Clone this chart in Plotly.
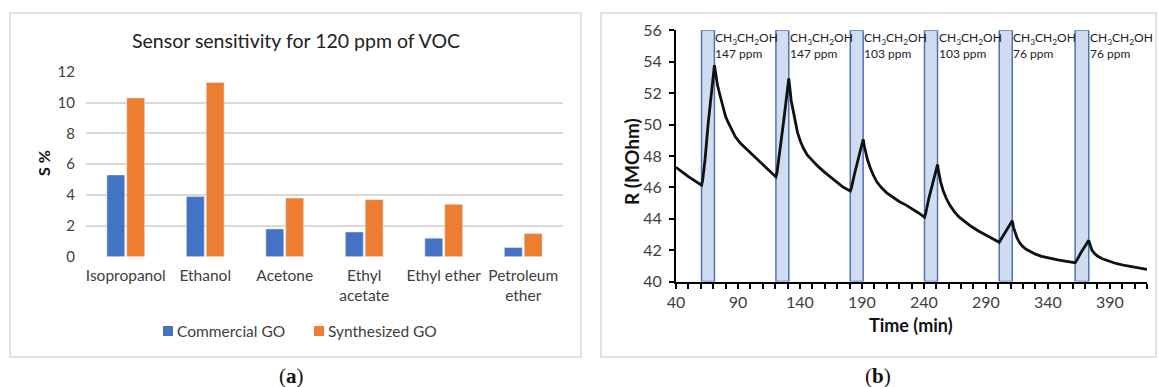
import plotly.graph_objects as go

# ---------------- data: panel (a) ----------------
categories = ["Isopropanol", "Ethanol", "Acetone", "Ethyl<br>acetate", "Ethyl ether", "Petroleum<br>ether"]
series_names = ["Commercial GO", "Synthesized GO"]
commercial_go = [5.3, 3.9, 1.8, 1.6, 1.2, 0.6]
synthesized_go = [10.3, 11.3, 3.8, 3.7, 3.4, 1.5]

# ---------------- data: panel (b) ----------------
time_min = [40, 50, 60.6, 61.5, 63.4, 66.0, 71.0,
            72, 73.5, 75.7, 78, 80, 82, 85, 88, 92, 96, 100, 105, 110, 115,
            120.6, 121.5, 123.5, 127, 131.0,
            132, 133, 134.5, 136, 138, 140.5, 143, 146, 150, 155, 160, 165, 170, 175,
            180.6, 181.5, 184, 187.5, 191.0,
            192, 193, 194.5, 196.5, 199, 202, 205.5, 210, 215, 220, 226, 232, 236,
            240.5, 241.5, 244, 247.5, 251.0,
            252, 253.5, 255.5, 258, 261, 264.5, 268.5, 273, 278, 284, 290, 295.5,
            300.8, 301.5, 306, 311.3,
            312.3, 313.5, 315, 317, 319.5, 322.5, 326, 330, 335, 341, 348, 355,
            362, 363, 367.5, 373.0,
            374, 375.5, 377.5, 380, 384, 389, 395, 402, 410, 420]
resistance = [47.27, 46.68, 46.13, 46.45, 47.74, 50.08, 53.78,
              53.2, 52.5, 51.8, 51.0, 50.5, 50.15, 49.65, 49.2, 48.8, 48.5, 48.2, 47.85, 47.5, 47.1,
              46.66, 46.95, 48.1, 50.3, 52.93,
              52.2, 51.5, 50.9, 50.2, 49.5, 48.9, 48.45, 48.05, 47.7, 47.3, 46.95, 46.65, 46.3, 46.0,
              45.76, 45.95, 46.85, 47.9, 49.06,
              48.6, 48.2, 47.75, 47.3, 46.8, 46.35, 46.0, 45.65, 45.35, 45.1, 44.85, 44.57, 44.35,
              44.1, 44.35, 45.3, 46.45, 47.45,
              46.95, 46.35, 45.8, 45.3, 44.85, 44.45, 44.1, 43.8, 43.52, 43.22, 42.95, 42.72,
              42.5, 42.6, 43.2, 43.87,
              43.45, 43.1, 42.8, 42.5, 42.25, 42.05, 41.88, 41.74, 41.6, 41.48, 41.37, 41.28,
              41.2, 41.3, 41.95, 42.62,
              42.3, 42.0, 41.8, 41.62, 41.45, 41.3, 41.15, 41.02, 40.9, 40.77]
exposure_start = [60.6, 120.6, 180.6, 240.5, 300.8, 362.0]
exposure_end = [71.0, 131.0, 191.0, 251.0, 311.3, 373.0]
concentration_ppm = [147, 147, 103, 103, 76, 76]

W, H = 1158, 387
FONT = "Lato"
TXT = "#404040"
BLUE = "#4472C4"
ORANGE = "#ED7D31"

def px(x):
    return x / W

def py(y):
    return 1 - y / H

fig = go.Figure()

fig.add_trace(go.Bar(x=categories, y=commercial_go, name=series_names[0], marker_color=BLUE,
                     xaxis="x", yaxis="y", showlegend=False))
fig.add_trace(go.Bar(x=categories, y=synthesized_go, name=series_names[1], marker_color=ORANGE,
                     xaxis="x", yaxis="y", showlegend=False))

fig.add_trace(go.Scatter(x=time_min, y=resistance, mode="lines", line=dict(color="#111111", width=2.8),
                         showlegend=False, xaxis="x2", yaxis="y2"))

shapes = [
    # panel frames
    dict(type="rect", xref="paper", yref="paper", x0=px(10), x1=px(581), y0=py(357), y1=py(13),
         line=dict(color="#D9D9D9", width=1.5), fillcolor="rgba(0,0,0,0)", layer="below"),
    dict(type="rect", xref="paper", yref="paper", x0=px(601), x1=px(1156), y0=py(357), y1=py(13),
         line=dict(color="#D9D9D9", width=1.5), fillcolor="rgba(0,0,0,0)", layer="below"),
]
annotations = []

# legend (panel a): colour squares + labels
legend_square_x = [163, 314]
for name, color, lx in zip(series_names, [BLUE, ORANGE], legend_square_x):
    shapes.append(dict(type="rect", xref="paper", yref="paper", x0=px(lx), x1=px(lx + 10),
                       y0=py(336), y1=py(326), fillcolor=color, line=dict(width=0)))
    annotations.append(dict(xref="paper", yref="paper", x=px(lx + 12), y=py(331), text=name,
                            xanchor="left", yanchor="middle", showarrow=False,
                            font=dict(family=FONT, size=15.5, color=TXT)))

for s, e, c in zip(exposure_start, exposure_end, concentration_ppm):
    shapes.append(dict(type="rect", xref="x2", yref="y2", x0=s, x1=e, y0=40, y1=56,
                       fillcolor="#D0DCF0", line=dict(color="#4F73B5", width=1.5), layer="below"))
    annotations.append(dict(xref="x2", yref="y2", x=e, y=56, xanchor="left", yanchor="top",
                            xshift=-1, yshift=2, align="left", showarrow=False,
                            text=f"CH<sub>3</sub>CH<sub>2</sub>OH<br>{c} ppm",
                            font=dict(family=FONT, size=12, color="#222222")))

annotations += [
    dict(xref="paper", yref="paper", x=px(296), y=py(40), text="Sensor sensitivity for 120 ppm of VOC",
         showarrow=False, xanchor="center", yanchor="middle",
         font=dict(family=FONT, size=19.5, color="#222222")),
    dict(xref="paper", yref="paper", x=px(44), y=py(163), text="<b>S %</b>", textangle=-90,
         showarrow=False, xanchor="center", yanchor="middle",
         font=dict(family=FONT, size=16, color="#111111")),
    dict(xref="paper", yref="paper", x=px(631), y=py(162), text="<b>R (MOhm)</b>", textangle=-90,
         showarrow=False, xanchor="center", yanchor="middle",
         font=dict(family=FONT, size=19, color="#111111")),
    dict(xref="paper", yref="paper", x=px(911), y=py(325), text="<b>Time (min)</b>",
         showarrow=False, xanchor="center", yanchor="middle",
         font=dict(family=FONT, size=18, color="#111111")),
    dict(xref="paper", yref="paper", x=px(291), y=py(376), text="(<b>a</b>)",
         showarrow=False, xanchor="center", yanchor="middle",
         font=dict(family="Liberation Serif", size=21, color="#111111")),
    dict(xref="paper", yref="paper", x=px(878), y=py(376), text="(<b>b</b>)",
         showarrow=False, xanchor="center", yanchor="middle",
         font=dict(family="Liberation Serif", size=21, color="#111111")),
]

fig.update_layout(
    width=W, height=H, autosize=False,
    margin=dict(l=0, r=0, t=0, b=0),
    paper_bgcolor="white", plot_bgcolor="white",
    font=dict(family=FONT, color=TXT, size=14),
    barmode="group", bargap=0.5, bargroupgap=0.1,
    showlegend=False,
    xaxis=dict(domain=[px(86), px(563)], anchor="y", showline=False, ticks="",
               tickfont=dict(family=FONT, size=15.5, color=TXT), ticklabelstandoff=8,
               showgrid=False, zeroline=False, automargin=False),
    yaxis=dict(domain=[py(256.7), py(71.7)], anchor="x", range=[0, 12], dtick=2,
               showgrid=True, gridcolor="#D9D9D9", gridwidth=1.5, zeroline=False, showline=False,
               ticks="", ticklabelstandoff=10, automargin=False,
               tickfont=dict(family=FONT, size=15, color=TXT)),
    xaxis2=dict(domain=[px(676), px(1147)], anchor="y2", range=[40, 420], tick0=40, dtick=50,
                showline=True, linecolor="black", linewidth=2, ticks="outside", ticklen=5,
                tickcolor="black", tickwidth=1.5, showgrid=False, zeroline=False, automargin=False,
                minor=dict(dtick=10, tick0=40, ticks="outside", ticklen=5, tickcolor="black",
                           tickwidth=1.5, showgrid=False),
                tickfont=dict(family=FONT, size=16, color=TXT)),
    yaxis2=dict(domain=[py(281.5), py(30.3)], anchor="x2", range=[40, 56], dtick=2,
                showline=True, linecolor="black", linewidth=2, ticks="outside", ticklen=5,
                tickcolor="black", tickwidth=1.5, showgrid=False, zeroline=False,
                ticklabelstandoff=4, automargin=False,
                tickfont=dict(family=FONT, size=16, color=TXT)),
    shapes=shapes,
    annotations=annotations,
)

fig.write_html("out.html", config={"displayModeBar": False},
               post_script="document.body.style.margin='0';document.body.style.overflow='hidden';")
